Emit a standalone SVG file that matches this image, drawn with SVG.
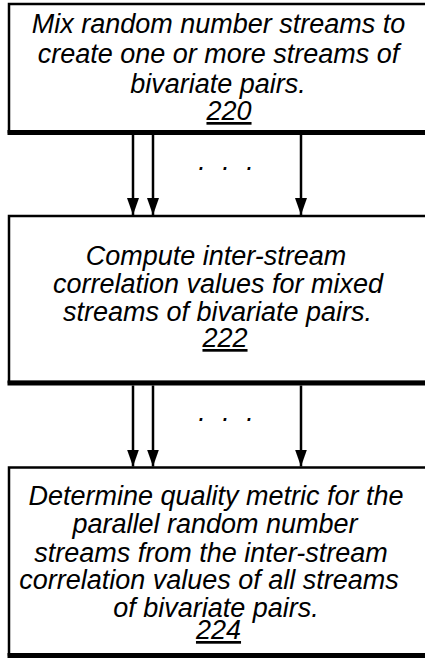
<svg xmlns="http://www.w3.org/2000/svg" width="425" height="658" viewBox="0 0 425 658">
  <style>
    .box { fill: #ffffff; stroke: #000000; stroke-width: 2.5; }
    .shadow { stroke: #000000; stroke-width: 5; fill: none; }
    .lbl { font-family: "Liberation Sans", Arial, sans-serif; font-style: italic; font-size: 27px; fill: #000000; text-anchor: middle; }
    .num { text-decoration: underline; }
    .conn { stroke: #000000; stroke-width: 2.5; fill: none; marker-end: url(#arrow); }
  </style>
  <defs>
    <marker id="arrow" markerUnits="userSpaceOnUse" markerWidth="17" markerHeight="12" refX="17" refY="6" orient="auto" viewBox="0 0 17 12">
      <path d="M0,0 L17,6 L0,12 Z" fill="#000000"/>
    </marker>
  </defs>
  <rect width="425" height="658" fill="#ffffff"/>

  <g id="node-220">
    <rect class="box" x="9" y="4" width="430" height="128"/>
    <line class="shadow" x1="7.5" y1="132.5" x2="425" y2="132.5"/>
    <text class="lbl" x="218.5" y="33">Mix random number streams to</text>
    <text class="lbl" x="218.5" y="63">create one or more streams of</text>
    <text class="lbl" x="218" y="93">bivariate pairs.</text>
    <text class="lbl num" x="229" y="120">220</text>
  </g>

  <g id="node-222">
    <rect class="box" x="9" y="216" width="430" height="166"/>
    <line class="shadow" x1="7.5" y1="383" x2="425" y2="383"/>
    <text class="lbl" x="216" y="265">Compute inter-stream</text>
    <text class="lbl" x="218" y="293">correlation values for mixed</text>
    <text class="lbl" x="217.5" y="321">streams of bivariate pairs.</text>
    <text class="lbl num" x="225" y="347">222</text>
  </g>

  <g id="node-224">
    <rect class="box" x="9" y="467.5" width="430" height="187"/>
    <line class="shadow" x1="7.5" y1="655.5" x2="425" y2="655.5"/>
    <text class="lbl" x="216" y="505">Determine quality metric for the</text>
    <text class="lbl" x="215" y="533">parallel random number</text>
    <text class="lbl" x="211" y="562">streams from the inter-stream</text>
    <text class="lbl" x="209" y="589">correlation values of all streams</text>
    <text class="lbl" x="216" y="617">of bivariate pairs.</text>
    <text class="lbl num" x="218.5" y="639">224</text>
  </g>

  <g id="connectors">
    <line class="conn" x1="133" y1="135" x2="133" y2="215"/>
    <line class="conn" x1="153" y1="135" x2="153" y2="215"/>
    <line class="conn" x1="301" y1="135" x2="301" y2="215"/>
    <text class="lbl" x="202 226 250" y="169.5">...</text>

    <line class="conn" x1="133" y1="385.5" x2="133" y2="466.5"/>
    <line class="conn" x1="153" y1="385.5" x2="153" y2="466.5"/>
    <line class="conn" x1="301" y1="385.5" x2="301" y2="466.5"/>
    <text class="lbl" x="202 226 250" y="420.5">...</text>
  </g>
</svg>
